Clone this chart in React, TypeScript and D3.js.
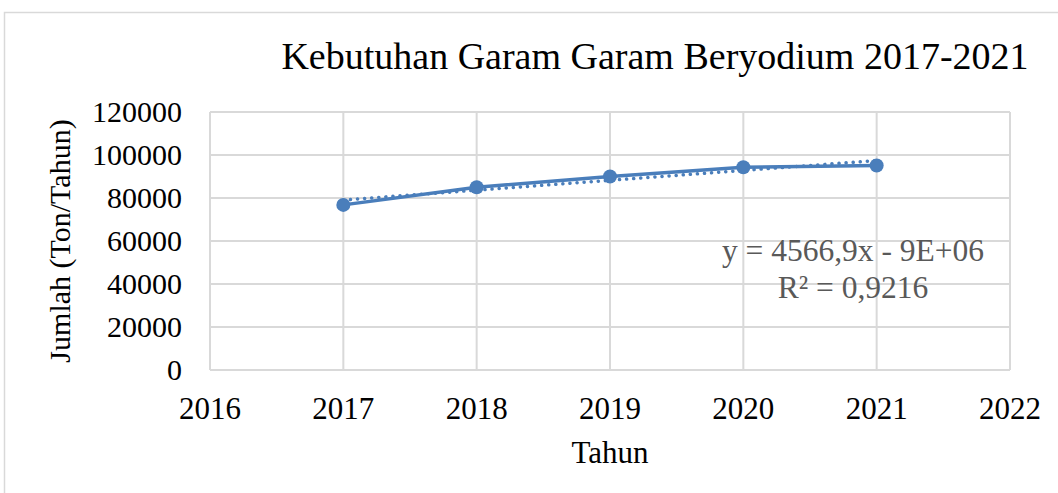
import React, { useEffect, useRef } from "react";
import * as d3 from "d3";

const years = [2017, 2018, 2019, 2020, 2021];
const values = [76800, 85000, 90000, 94300, 95100];
const xTicks = [2016, 2017, 2018, 2019, 2020, 2021, 2022];
const yTicks = [0, 20000, 40000, 60000, 80000, 100000, 120000];
const equationLines = ["y = 4566,9x - 9E+06", "R² = 0,9216"];

const W = 1058;
const H = 493;
const FONT = "'Liberation Serif', 'Times New Roman', serif";
const BLUE = "#4A7EBB";
const GRID = "#D9D9D9";

const App = () => {
  const svgRef = useRef<SVGSVGElement | null>(null);

  useEffect(() => {
    const svg = d3.select(svgRef.current);
    svg.selectAll("*").remove();

    const x = d3.scaleLinear().domain([2016, 2022]).range([210, 1010]);
    const y = d3.scaleLinear().domain([0, 120000]).range([370, 112]);

    // chart area border
    svg.append("rect")
      .attr("x", 4.5).attr("y", 12.5)
      .attr("width", W + 20).attr("height", H + 20)
      .attr("fill", "#fff")
      .attr("stroke", GRID)
      .attr("stroke-width", 1.5);

    // gridlines
    svg.append("g").selectAll("line")
      .data(yTicks)
      .enter().append("line")
      .attr("x1", x(2016)).attr("x2", x(2022))
      .attr("y1", (d) => y(d)).attr("y2", (d) => y(d))
      .attr("stroke", GRID).attr("stroke-width", 2);

    svg.append("g").selectAll("line")
      .data(xTicks)
      .enter().append("line")
      .attr("x1", (d) => x(d)).attr("x2", (d) => x(d))
      .attr("y1", y(0)).attr("y2", y(120000))
      .attr("stroke", GRID).attr("stroke-width", 2);

    // y tick labels
    svg.append("g").selectAll("text")
      .data(yTicks)
      .enter().append("text")
      .attr("x", 182)
      .attr("y", (d) => y(d) + 10)
      .attr("text-anchor", "end")
      .style("font-family", FONT)
      .style("font-size", "30px")
      .attr("fill", "#000")
      .text((d) => d);

    // x tick labels
    svg.append("g").selectAll("text")
      .data(xTicks)
      .enter().append("text")
      .attr("x", (d) => x(d))
      .attr("y", 419)
      .attr("text-anchor", "middle")
      .style("font-family", FONT)
      .style("font-size", "31px")
      .attr("fill", "#000")
      .text((d) => d);

    // trendline (linear regression)
    const mx = d3.mean(years) as number;
    const my = d3.mean(values) as number;
    const slope =
      d3.sum(years, (yr, i) => (yr - mx) * (values[i] - my)) /
      d3.sum(years, (yr) => (yr - mx) ** 2);
    const trend = (yr: number) => my + slope * (yr - mx);

    const pts = years.map((yr, i) => ({ yr, v: values[i] }));
    const line = d3.line<{ yr: number; v: number }>()
      .x((d) => x(d.yr))
      .y((d) => y(d.v));

    svg.append("path")
      .attr("d", line(pts))
      .attr("fill", "none")
      .attr("stroke", BLUE)
      .attr("stroke-width", 3.5);

    svg.append("line")
      .attr("x1", x(years[0])).attr("y1", y(trend(years[0])))
      .attr("x2", x(years[years.length - 1])).attr("y2", y(trend(years[years.length - 1])))
      .attr("stroke", BLUE)
      .attr("stroke-width", 3.5)
      .attr("stroke-linecap", "round")
      .attr("stroke-dasharray", "0.1,7");

    svg.append("g").selectAll("circle")
      .data(pts)
      .enter().append("circle")
      .attr("cx", (d) => x(d.yr))
      .attr("cy", (d) => y(d.v))
      .attr("r", 7)
      .attr("fill", BLUE);

    // trendline equation
    svg.append("g").selectAll("text")
      .data(equationLines)
      .enter().append("text")
      .attr("x", 853)
      .attr("y", (d, i) => 261 + i * 37)
      .attr("text-anchor", "middle")
      .style("font-family", FONT)
      .style("font-size", "31.5px")
      .attr("fill", "#595959")
      .text((d) => d);

    // title
    svg.append("text")
      .attr("x", 655)
      .attr("y", 69)
      .attr("text-anchor", "middle")
      .style("font-family", FONT)
      .style("font-size", "38px")
      .attr("fill", "#000")
      .text("Kebutuhan Garam Garam Beryodium 2017-2021");

    // axis titles
    svg.append("text")
      .attr("x", 610)
      .attr("y", 463)
      .attr("text-anchor", "middle")
      .style("font-family", FONT)
      .style("font-size", "31px")
      .attr("fill", "#000")
      .text("Tahun");

    svg.append("text")
      .attr("transform", `translate(70, ${(y(0) + y(120000)) / 2}) rotate(-90)`)
      .attr("text-anchor", "middle")
      .style("font-family", FONT)
      .style("font-size", "30px")
      .attr("fill", "#000")
      .text("Jumlah (Ton/Tahun)");
  }, []);

  return (
    <svg
      ref={svgRef}
      width={W}
      height={H}
      style={{ position: "absolute", left: 0, top: 0, background: "#fff" }}
    ></svg>
  );
};

export default App;
